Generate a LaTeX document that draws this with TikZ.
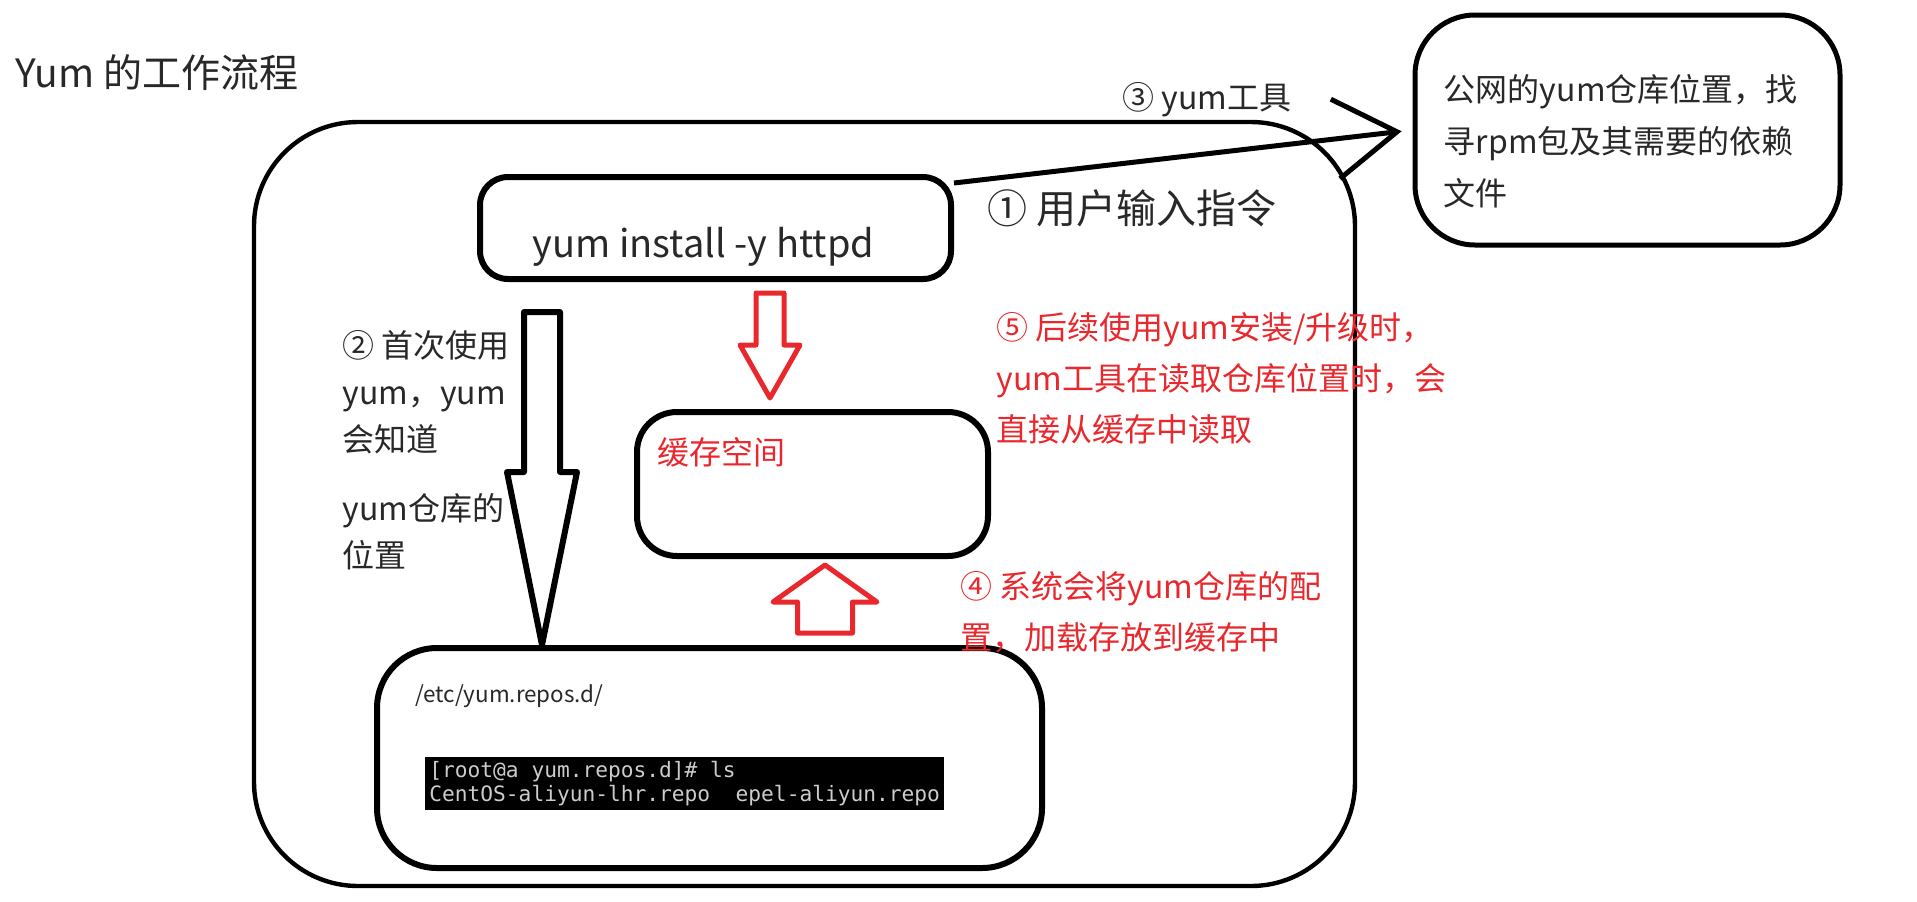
\documentclass[tikz,border=0pt]{standalone}
\usepackage{fontspec}
\setmainfont{Noto Sans CJK SC}
\newfontfamily\termfont{DejaVu Sans Mono}
\usepackage{xcolor}
\usetikzlibrary{positioning,calc,arrows.meta}
\definecolor{inkred}{RGB}{232,40,44}
\definecolor{inkgray}{RGB}{40,40,40}

% hollow block arrow: style, tail, tip, half shaft, half head, head length
\newcommand{\blockarrow}[6]{%
  \coordinate (hb) at ($(#3)!#6!(#2)$);
  \draw[#1] ($(#2)!#4!90:(#3)$) -- ($(hb)!#4!90:(#3)$) -- ($(hb)!#5!90:(#3)$)
    -- (#3) -- ($(hb)!#5!-90:(#3)$) -- ($(hb)!#4!-90:(#3)$) -- ($(#2)!#4!-90:(#3)$) -- cycle;
}

\begin{document}
\begin{tikzpicture}[x=0.5pt, y=-0.5pt,
        frame/.style={rectangle, draw=black, line width=2.2pt, rounded corners=52pt, minimum width=550.5pt, minimum height=382pt},
        box/.style={rectangle, draw=black, line width=3pt, inner sep=0pt},
        note/.style={font=\fontsize{16pt}{25.5pt}\selectfont, text=inkgray, align=left, inner sep=0pt},
        rednote/.style={note, text=inkred},
        term/.style={fill=black, text=white!80!black, font=\termfont\fontsize{10.6pt}{12pt}\selectfont, align=left, inner sep=2pt},
        hollow/.style={draw=black, line width=3pt, line join=round},
        redhollow/.style={draw=inkred, line width=2.5pt, line join=round},
        tool/.style={-{Straight Barb[length=31pt, width=40pt]}, line width=2.5pt, shorten >=5.5pt},
      ]
      \useasboundingbox (0,0) rectangle (1917,901);
      \node [note, anchor=west, font=\fontsize{19.5pt}{19.5pt}\selectfont] (title) at (15,73) {Yum 的工作流程};
      \node [frame] (host) at (804.5,504) {};
      \node [box, rounded corners=14pt, minimum width=235.5pt, minimum height=51pt] (cmd) at (715.5,228) {};
      \node [note, anchor=base, font=\fontsize{19pt}{19pt}\selectfont] (cmdtxt) at ($(cmd.center)+(-12,29)$) {yum install -y httpd};
      \node [note, font=\fontsize{20pt}{20pt}\selectfont, right=16.5pt of cmd, yshift=10pt] (step1) {① 用户输入指令};
      \node [box, rounded corners=20pt, minimum width=175.5pt, minimum height=72pt] (cache) at (812.5,484) {};
      \node [rednote, anchor=west] (cachetxt) at ($(cache.north west)+(23,43)$) {缓存空间};
      \node [box, rounded corners=30pt, minimum width=332.5pt, minimum height=110pt] (repos) at (709.5,758) {};
      \node [note, anchor=west, font=\fontsize{11.2pt}{11.2pt}\selectfont] (repospath) at ($(repos.north west)+(41,51)$) {/etc/yum.repos.d/};
      \node [term, anchor=north west] (lsout) at ($(repos.north west)+(51,112)$) {[root@a yum.repos.d]\# ls\\CentOS-aliyun-lhr.repo\ \ epel-aliyun.repo};
      \node [box, line width=2.5pt, rounded corners=30pt, minimum width=212.5pt, minimum height=115pt] (pub) at (1627.5,130) {};
      \node [note, anchor=north west, font=\fontsize{16pt}{26pt}\selectfont] (pubtxt) at ($(pub.north west)+(31,61)$) {公网的yum仓库位置，找\\寻rpm包及其需要的依赖\\文件};
      \node [note, anchor=west] (step3) at (1122,100) {③ yum工具};
      \node [note, anchor=north west, font=\fontsize{16pt}{23.5pt}\selectfont] (step2) at (342,330) {② 首次使用\\yum，yum\\会知道\\[11pt]yum仓库的\\位置};
      \node [rednote, anchor=north west] (step5) at (996,312) {⑤ 后续使用yum安装/升级时，\\yum工具在读取仓库位置时，会\\直接从缓存中读取};
      \node [rednote, anchor=north west] (step4) at (960,571) {④ 系统会将yum仓库的配\\置，加载存放到缓存中};
      \draw [tool] ([yshift=-4.5pt]cmd.north east) -- (pub.west);
      \coordinate (firsttail) at (542,312);
      \coordinate (firsttip) at (firsttail |- repos.north);
      \blockarrow{hollow}{firsttail}{firsttip}{9pt}{17.5pt}{86.5pt}
      \coordinate (loadtail) at (770,293);
      \coordinate (loadtip) at ($(loadtail |- cache.north)+(0,-11)$);
      \blockarrow{redhollow}{loadtail}{loadtip}{7pt}{15pt}{26.5pt}
      \coordinate (savetail) at (825,633);
      \coordinate (savetip) at ($(savetail |- cache.south)+(0,6)$);
      \blockarrow{redhollow}{savetail}{savetip}{13.75pt}{26pt}{18.5pt}
    \end{tikzpicture}
\end{document}
